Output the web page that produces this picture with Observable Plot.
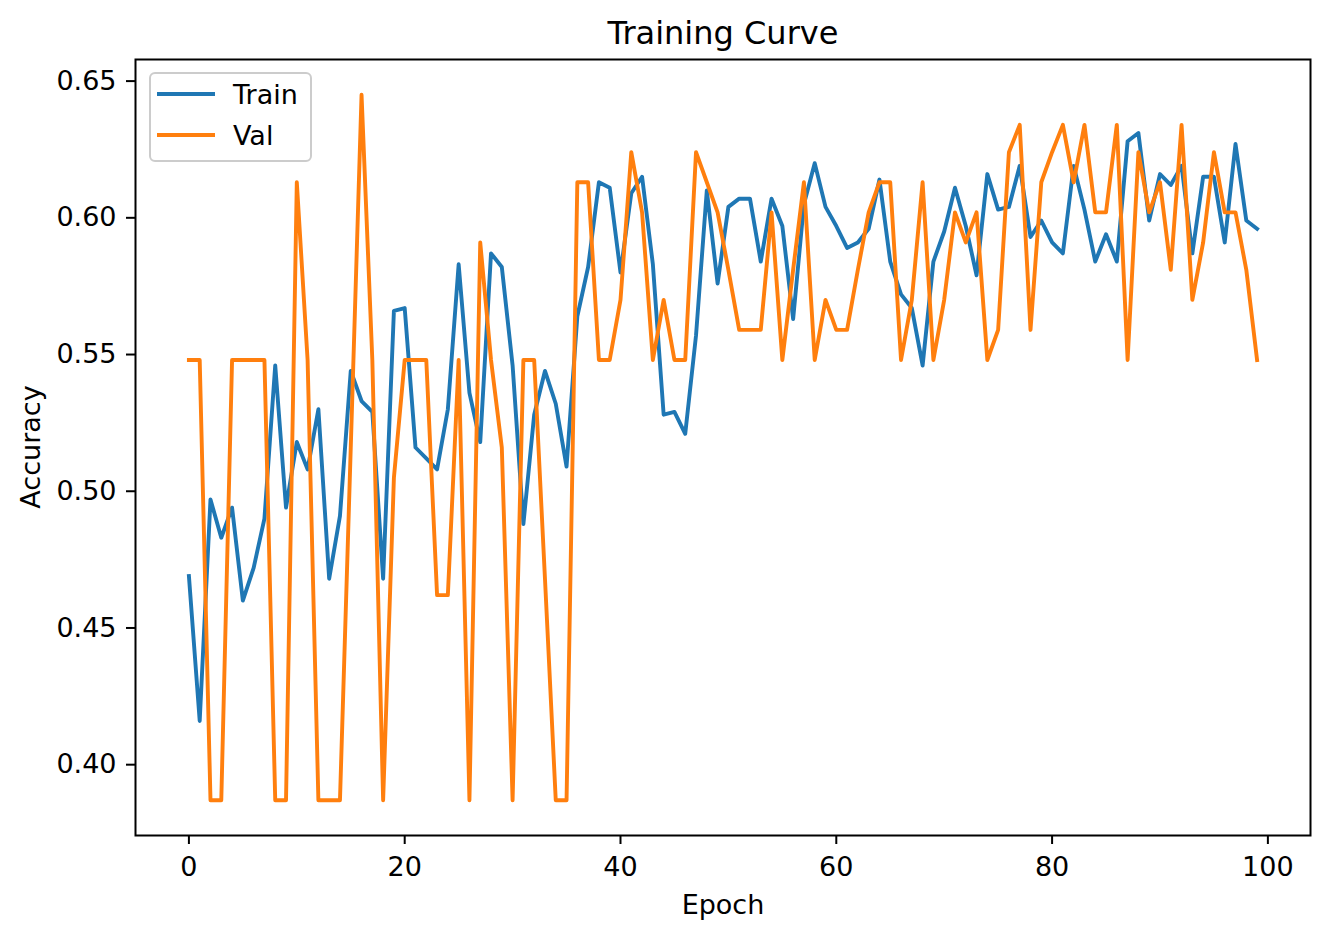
<!DOCTYPE html>
<html>
<head>
<meta charset="utf-8">
<script src="https://cdn.jsdelivr.net/npm/d3@7"></script>
<script src="https://cdn.jsdelivr.net/npm/@observablehq/plot@0.6"></script>
<style>
  body { margin: 0; background: #fff; }
  #chart { width: 1328px; height: 939px; }
</style>
</head>
<body>
<div id="chart"></div>
<script>
const epochs = d3.range(100);
const trainAcc = [
  0.469, 0.416, 0.497, 0.483, 0.494, 0.460, 0.472, 0.490, 0.546, 0.494,
  0.518, 0.508, 0.530, 0.468, 0.491, 0.544, 0.533, 0.529, 0.468, 0.566,
  0.567, 0.516, 0.512, 0.508, 0.530, 0.583, 0.536, 0.518, 0.587, 0.582,
  0.546, 0.488, 0.528, 0.544, 0.532, 0.509, 0.564, 0.582, 0.613, 0.611,
  0.580, 0.609, 0.615, 0.583, 0.528, 0.529, 0.521, 0.557, 0.610, 0.576,
  0.604, 0.607, 0.607, 0.584, 0.607, 0.597, 0.563, 0.605, 0.620, 0.604,
  0.597, 0.589, 0.591, 0.596, 0.614, 0.584, 0.572, 0.567, 0.546, 0.584,
  0.595, 0.611, 0.597, 0.579, 0.616, 0.603, 0.604, 0.619, 0.593, 0.599,
  0.591, 0.587, 0.619, 0.603, 0.584, 0.594, 0.584, 0.628, 0.631, 0.599,
  0.616, 0.612, 0.619, 0.587, 0.615, 0.615, 0.591, 0.627, 0.599, 0.596
];
const valAcc = [
  0.548, 0.548, 0.387, 0.387, 0.548, 0.548, 0.548, 0.548, 0.387, 0.387,
  0.613, 0.548, 0.387, 0.387, 0.387, 0.516, 0.645, 0.548, 0.387, 0.505,
  0.548, 0.548, 0.548, 0.462, 0.462, 0.548, 0.387, 0.591, 0.548, 0.516,
  0.387, 0.548, 0.548, 0.468, 0.387, 0.387, 0.613, 0.613, 0.548, 0.548,
  0.570, 0.624, 0.602, 0.548, 0.570, 0.548, 0.548, 0.624, 0.613, 0.602,
  0.581, 0.559, 0.559, 0.559, 0.602, 0.548, 0.581, 0.613, 0.548, 0.570,
  0.559, 0.559, 0.581, 0.602, 0.613, 0.613, 0.548, 0.570, 0.613, 0.548,
  0.570, 0.602, 0.591, 0.602, 0.548, 0.559, 0.624, 0.634, 0.559, 0.613,
  0.624, 0.634, 0.613, 0.634, 0.602, 0.602, 0.634, 0.548, 0.624, 0.602,
  0.613, 0.581, 0.634, 0.570, 0.591, 0.624, 0.602, 0.602, 0.581, 0.548
];
const seriesNames = ["Train", "Val"];
const seriesColors = ["#1f77b4", "#ff7f0e"];
const xTicks = [0, 20, 40, 60, 80, 100];
const yTicks = [0.40, 0.45, 0.50, 0.55, 0.60, 0.65];
const titleText = "Training Curve";
const xLabel = "Epoch";
const yLabel = "Accuracy";

const seriesValues = [trainAcc, valAcc];
const rows = seriesNames.flatMap((name, s) =>
  epochs.map((e, i) => ({ epoch: e, acc: seriesValues[s][i], series: name }))
);

const allVals = trainAcc.concat(valAcc);
const yMin = d3.min(allVals), yMax = d3.max(allVals);
const yPad = (yMax - yMin) * 0.05;
const xPad = (d3.max(epochs) - d3.min(epochs)) * 0.05;

const FONT = "DejaVu Sans, sans-serif";
const FS = 27;

const chart = Plot.plot({
  width: 1328,
  height: 939,
  marginLeft: 135,
  marginRight: 18,
  marginTop: 59,
  marginBottom: 104,
  style: { fontFamily: FONT, fontSize: FS + "px", background: "#fff", color: "#000", overflow: "visible" },
  x: { domain: [d3.min(epochs) - xPad, d3.max(epochs) + xPad] },
  y: { domain: [yMin - yPad, yMax + yPad] },
  color: { domain: seriesNames, range: seriesColors },
  marks: [
    Plot.line(rows, { x: "epoch", y: "acc", z: "series", stroke: "series", strokeWidth: 3.9, strokeLinejoin: "round", strokeLinecap: "square" }),
    Plot.frame({ stroke: "#000", strokeWidth: 2 }),
    Plot.axisX(xTicks, { tickSize: 9, tickPadding: 12, strokeWidth: 2, label: null, fontSize: FS }),
    Plot.axisY(yTicks, { tickSize: 9, tickPadding: 10, strokeWidth: 2, label: null, fontSize: FS, tickFormat: d3.format(".2f") }),
    Plot.text([titleText], { frameAnchor: "top", text: d => d, dy: -16, lineAnchor: "bottom", fontSize: 32 }),
    Plot.text([xLabel], { frameAnchor: "bottom", text: d => d, dy: 78, lineAnchor: "bottom", fontSize: FS })
  ]
});

const svg = d3.select(chart);
const yr = chart.scale("y").range;
const xr = chart.scale("x").range;
const frameMidY = (yr[0] + yr[1]) / 2;
const frameLeft = Math.min(xr[0], xr[1]);

// y-axis label (rotated), placed relative to the frame
svg.append("text")
  .attr("transform", `translate(${frameLeft - 95},${frameMidY}) rotate(-90)`)
  .attr("text-anchor", "middle")
  .attr("font-family", FONT).attr("font-size", FS).attr("fill", "#000")
  .text(yLabel);

// legend (upper left, inside the frame)
const lx = frameLeft + 15, ly = Math.min(yr[0], yr[1]) + 14;
const lg = svg.append("g").attr("font-family", FONT).attr("font-size", FS).attr("text-anchor", "start");
lg.append("rect")
  .attr("x", lx).attr("y", ly).attr("width", 161).attr("height", 88)
  .attr("rx", 5).attr("fill", "#fff").attr("fill-opacity", 0.8)
  .attr("stroke", "#cccccc").attr("stroke-width", 2);
seriesNames.forEach((name, i) => {
  const cy = ly + 21 + i * 41;
  lg.append("line")
    .attr("x1", lx + 7).attr("x2", lx + 65).attr("y1", cy).attr("y2", cy)
    .attr("stroke", seriesColors[i]).attr("stroke-width", 3.9);
  lg.append("text").attr("x", lx + 83).attr("y", cy + 10).attr("fill", "#000")
    .attr("text-anchor", "start").text(name);
});

document.getElementById("chart").appendChild(chart);
</script>
</body>
</html>
